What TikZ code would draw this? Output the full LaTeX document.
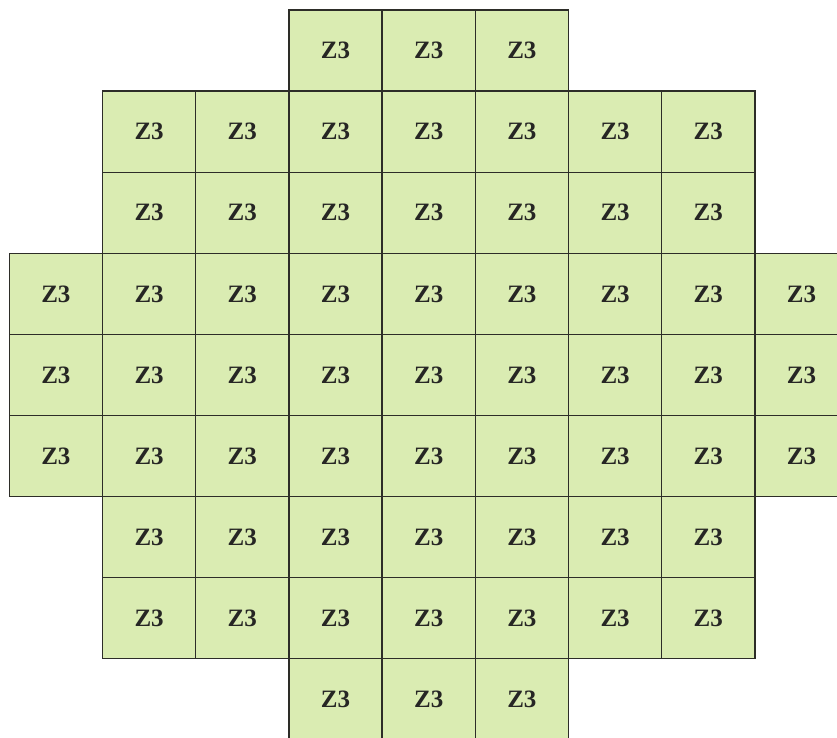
\documentclass[tikz,border=0pt]{standalone}
\usepackage{fontspec}
\setmainfont{Liberation Serif}
\definecolor{cellfill}{RGB}{218,236,178}
\definecolor{cellline}{RGB}{45,45,40}
\definecolor{celltext}{RGB}{38,38,36}
\begin{document}
\begin{tikzpicture}[x=1pt,y=-1pt,
  cell/.style={fill=cellfill,rectangle,
    minimum width=93.2pt,minimum height=81.1pt,inner sep=0pt,outer sep=0pt,
    text=celltext,font=\fontsize{25}{25}\selectfont\bfseries},
  cellborder/.style={draw=cellline,line width=1.3pt}]
\useasboundingbox (0,0) rectangle (837,738);
\clip (0,0) rectangle (837,738);
\fill[white] (0,0) rectangle (837,738);
\def\layout{0/{3,4,5},1/{1,2,3,4,5,6,7},2/{1,2,3,4,5,6,7},
  3/{0,1,2,3,4,5,6,7,8},4/{0,1,2,3,4,5,6,7,8},5/{0,1,2,3,4,5,6,7,8},
  6/{1,2,3,4,5,6,7},7/{1,2,3,4,5,6,7},8/{3,4,5}}
\foreach \r/\cols in \layout{
  \foreach \c in \cols{
    \node[cell] (c-\r-\c) at ({9.3+93.2*\c+46.6},{10+81.1*\r+40.55}) {\raisebox{-2pt}{Z3}};
  }
}
\foreach \r/\cols in \layout{
  \foreach \c in \cols{
    \draw[cellborder] (c-\r-\c.north west) rectangle (c-\r-\c.south east);
  }
}
\end{tikzpicture}
\end{document}
